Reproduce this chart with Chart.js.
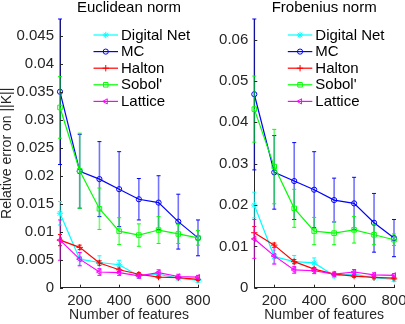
<!DOCTYPE html>
<html>
<head>
<meta charset="utf-8">
<script src="https://cdn.jsdelivr.net/npm/chart.js@4.4.0/dist/chart.umd.min.js"></script>
<style>
  html, body { margin: 0; padding: 0; background: #fff; overflow: hidden; width: 405px; height: 324px; }
  canvas { position: absolute; top: 0; }
  #left { left: 0; }
  #right { left: 200px; }
</style>
</head>
<body>
<canvas id="left" width="218" height="324"></canvas>
<canvas id="right" width="225" height="324"></canvas>
<script>
// number of random features used
const features = [100, 200, 300, 400, 500, 600, 700, 800];
const xTicks = [200, 400, 600, 800];
const euclidTicks = [0, 0.005, 0.01, 0.015, 0.02, 0.025, 0.03, 0.035, 0.04, 0.045];
const frobTicks = [0, 0.01, 0.02, 0.03, 0.04, 0.05, 0.06];

// Euclidean norm: mean relative error and half error bar
const digitalE = [0.0133, 0.0051, 0.0045, 0.0041, 0.0021, 0.0024, 0.0017, 0.0013];
const digitalEErr = [0.0021, 0.0011, 0.0012, 0.0008, 0.0004, 0.0005, 0.0003, 0.0003];
const mcE = [0.035, 0.0208, 0.0194, 0.0176, 0.0158, 0.0152, 0.0118, 0.0089];
const mcEErr = [0.013, 0.0066, 0.0067, 0.0067, 0.0037, 0.0048, 0.0049, 0.0032];
const haltonE = [0.0085, 0.0072, 0.0044, 0.0032, 0.0024, 0.0019, 0.0018, 0.0015];
const haltonEErr = [0.0010, 0.0004, 0.0004, 0.0003, 0.0003, 0.0002, 0.0002, 0.0002];
const sobolE = [0.0322, 0.0209, 0.0141, 0.0101, 0.0094, 0.0103, 0.0096, 0.0089];
const sobolEErr = [0.0055, 0.0067, 0.0037, 0.0024, 0.0020, 0.0024, 0.0017, 0.0013];
const latticeE = [0.0085, 0.0051, 0.0028, 0.0027, 0.0021, 0.0027, 0.0020, 0.0019];
const latticeEErr = [0.0036, 0.0012, 0.0006, 0.0005, 0.0004, 0.0005, 0.0004, 0.0003];

// Frobenius norm
const digitalF = [0.0200, 0.0075, 0.0063, 0.0060, 0.0029, 0.0033, 0.0024, 0.0020];
const digitalFErr = [0.0031, 0.0016, 0.0015, 0.0012, 0.0005, 0.0006, 0.0004, 0.0004];
const mcF = [0.0468, 0.0279, 0.0258, 0.0237, 0.0212, 0.0204, 0.0157, 0.0120];
const mcFErr = [0.0183, 0.0089, 0.0093, 0.0092, 0.0053, 0.0063, 0.0071, 0.0045];
const haltonF = [0.0133, 0.0103, 0.0063, 0.0045, 0.0033, 0.0028, 0.0025, 0.0023];
const haltonFErr = [0.0015, 0.0005, 0.0005, 0.0004, 0.0003, 0.0003, 0.0002, 0.0002];
const sobolF = [0.0432, 0.0293, 0.0192, 0.0137, 0.0132, 0.0140, 0.0128, 0.0116];
const sobolFErr = [0.0080, 0.0090, 0.0046, 0.0033, 0.0028, 0.0032, 0.0024, 0.0014];
const latticeF = [0.0118, 0.0077, 0.0043, 0.0041, 0.0033, 0.0038, 0.0031, 0.0030];
const latticeFErr = [0.0047, 0.0020, 0.0008, 0.0007, 0.0005, 0.0006, 0.0005, 0.0004];

const names = ['Digital Net', 'MC', 'Halton', "Sobol'", 'Lattice'];
const colors = ['#00ffff', '#0000ff', '#ff0000', '#00ff00', '#ff00ff'];
const styles = ['star', 'circle', 'cross', 'rect', 'triangle'];
const rotations = [0, 0, 0, 0, -90];
const radii = [3.2, 2.6, 3.2, 3.2, 3];

const FONT = "'Liberation Sans', Arial, Helvetica, sans-serif";
const GREY = '#262626';

const decor = {
  id: 'decor',
  beforeDatasetDraw(chart, args) {
    const ds = chart.data.datasets[args.index];
    const ys = chart.scales.y, area = chart.chartArea, ctx = chart.ctx;
    ctx.save();
    args.meta.data.forEach((pt, k) => {
      const v = ds.data[k].y, e = ds.errors[k];
      const top = Math.max(ys.getPixelForValue(v + e), area.top);
      const bot = Math.min(ys.getPixelForValue(v - e), area.bottom);
      ctx.strokeStyle = ds.borderColor;
      ctx.globalAlpha = 0.55;
      ctx.lineWidth = 1.6;
      ctx.beginPath(); ctx.moveTo(pt.x, top); ctx.lineTo(pt.x, bot); ctx.stroke();
      ctx.globalAlpha = 1;
      ctx.lineWidth = 1;
      ctx.beginPath();
      ctx.moveTo(pt.x - 2, top); ctx.lineTo(pt.x + 2, top);
      ctx.moveTo(pt.x - 2, bot); ctx.lineTo(pt.x + 2, bot);
      ctx.stroke();
    });
    ctx.restore();
  },
  afterDraw(chart) {
    const ctx = chart.ctx, area = chart.chartArea;
    const xs = chart.scales.x, ys = chart.scales.y;
    ctx.save();
    // inward tick marks
    ctx.strokeStyle = GREY; ctx.lineWidth = 1;
    ctx.beginPath();
    xTicks.forEach(v => { const px = Math.round(xs.getPixelForValue(v)) + 0.5; ctx.moveTo(px, area.bottom); ctx.lineTo(px, area.bottom - 3); });
    chart.options.yTickList.forEach(v => { const py = Math.round(ys.getPixelForValue(v)) + 0.5; ctx.moveTo(area.left, py); ctx.lineTo(area.left + 3, py); });
    ctx.stroke();
    // subplot title
    ctx.fillStyle = '#000';
    ctx.font = '15px ' + FONT;
    ctx.textAlign = 'center'; ctx.textBaseline = 'middle';
    ctx.fillText(chart.options.panelTitle, (area.left + area.right) / 2, 8);
    // legend inside the axes
    ctx.textAlign = 'left';
    chart.data.datasets.forEach((ds, i) => {
      const y = 35 + i * 16.6;
      const x0 = area.left + 33.5, x1 = area.left + 58;
      ctx.strokeStyle = ds.borderColor; ctx.lineWidth = 1.2;
      ctx.beginPath(); ctx.moveTo(x0, y); ctx.lineTo(x1, y); ctx.stroke();
      ctx.fillStyle = 'rgba(0,0,0,0)';
      ctx.lineWidth = 1;
      Chart.helpers.drawPoint(ctx, { pointStyle: ds.pointStyle, radius: ds.pointRadius, rotation: ds.pointRotation, borderWidth: 1 }, (x0 + x1) / 2, y);
      ctx.fillStyle = '#000';
      ctx.fillText(ds.label, x1 + 3, y + 0.5);
    });
    ctx.restore();
  }
};

function makeChart(id, title, yMax, yTickList, values, errors, yLabel, yWidth, padRight) {
  const datasets = names.map((name, i) => ({
    label: name,
    data: values[i].map((v, k) => ({ x: features[k], y: v })),
    errors: errors[i],
    borderColor: colors[i],
    backgroundColor: 'rgba(0,0,0,0)',
    borderWidth: 1.2,
    pointStyle: styles[i],
    pointRadius: radii[i],
    pointRotation: rotations[i],
    pointBorderWidth: 1,
    pointBorderColor: colors[i],
    pointBackgroundColor: 'rgba(0,0,0,0)',
    tension: 0,
    clip: false,
    order: names.length - i
  }));
  return new Chart(document.getElementById(id), {
    type: 'line',
    data: { datasets: datasets },
    plugins: [decor],
    options: {
      responsive: false,
      animation: false,
      panelTitle: title,
      yTickList: yTickList,
      layout: { padding: { top: 19, left: 0, right: padRight, bottom: 0 } },
      plugins: { legend: { display: false }, tooltip: { enabled: false }, title: { display: false } },
      scales: {
        x: {
          type: 'linear', min: 100, max: 800,
          afterBuildTicks: s => { s.ticks = xTicks.map(v => ({ value: v })); },
          afterFit: s => { s.height = 36.3; },
          ticks: { autoSkip: false, maxRotation: 0, padding: 4, color: GREY, font: { family: FONT, size: 15 }, callback: v => String(v) },
          grid: { drawOnChartArea: false, drawTicks: false },
          border: { color: GREY, width: 1 },
          title: { display: true, text: 'Number of features', color: GREY, font: { family: FONT, size: 14, lineHeight: 1 }, padding: { top: 0, bottom: 2 } }
        },
        y: {
          type: 'linear', min: 0, max: yMax,
          afterBuildTicks: s => { s.ticks = yTickList.map(v => ({ value: v })); },
          afterFit: s => { s.width = yWidth; },
          ticks: { autoSkip: false, padding: 6, color: GREY, font: { family: FONT, size: 15 }, callback: v => String(v) },
          grid: { drawOnChartArea: false, drawTicks: false },
          border: { color: GREY, width: 1 },
          title: { display: !!yLabel, text: yLabel, color: GREY, font: { family: FONT, size: 14, lineHeight: 1 }, padding: 0 }
        }
      }
    }
  });
}

makeChart('left', 'Euclidean norm', 0.048, euclidTicks,
  [digitalE, mcE, haltonE, sobolE, latticeE],
  [digitalEErr, mcEErr, haltonEErr, sobolEErr, latticeEErr],
  'Relative error on ||K||', 60, 20);

makeChart('right', 'Frobenius norm', 0.065, frobTicks,
  [digitalF, mcF, haltonF, sobolF, latticeF],
  [digitalFErr, mcFErr, haltonFErr, sobolFErr, latticeFErr],
  '', 54.3, 31);
</script>
</body>
</html>
